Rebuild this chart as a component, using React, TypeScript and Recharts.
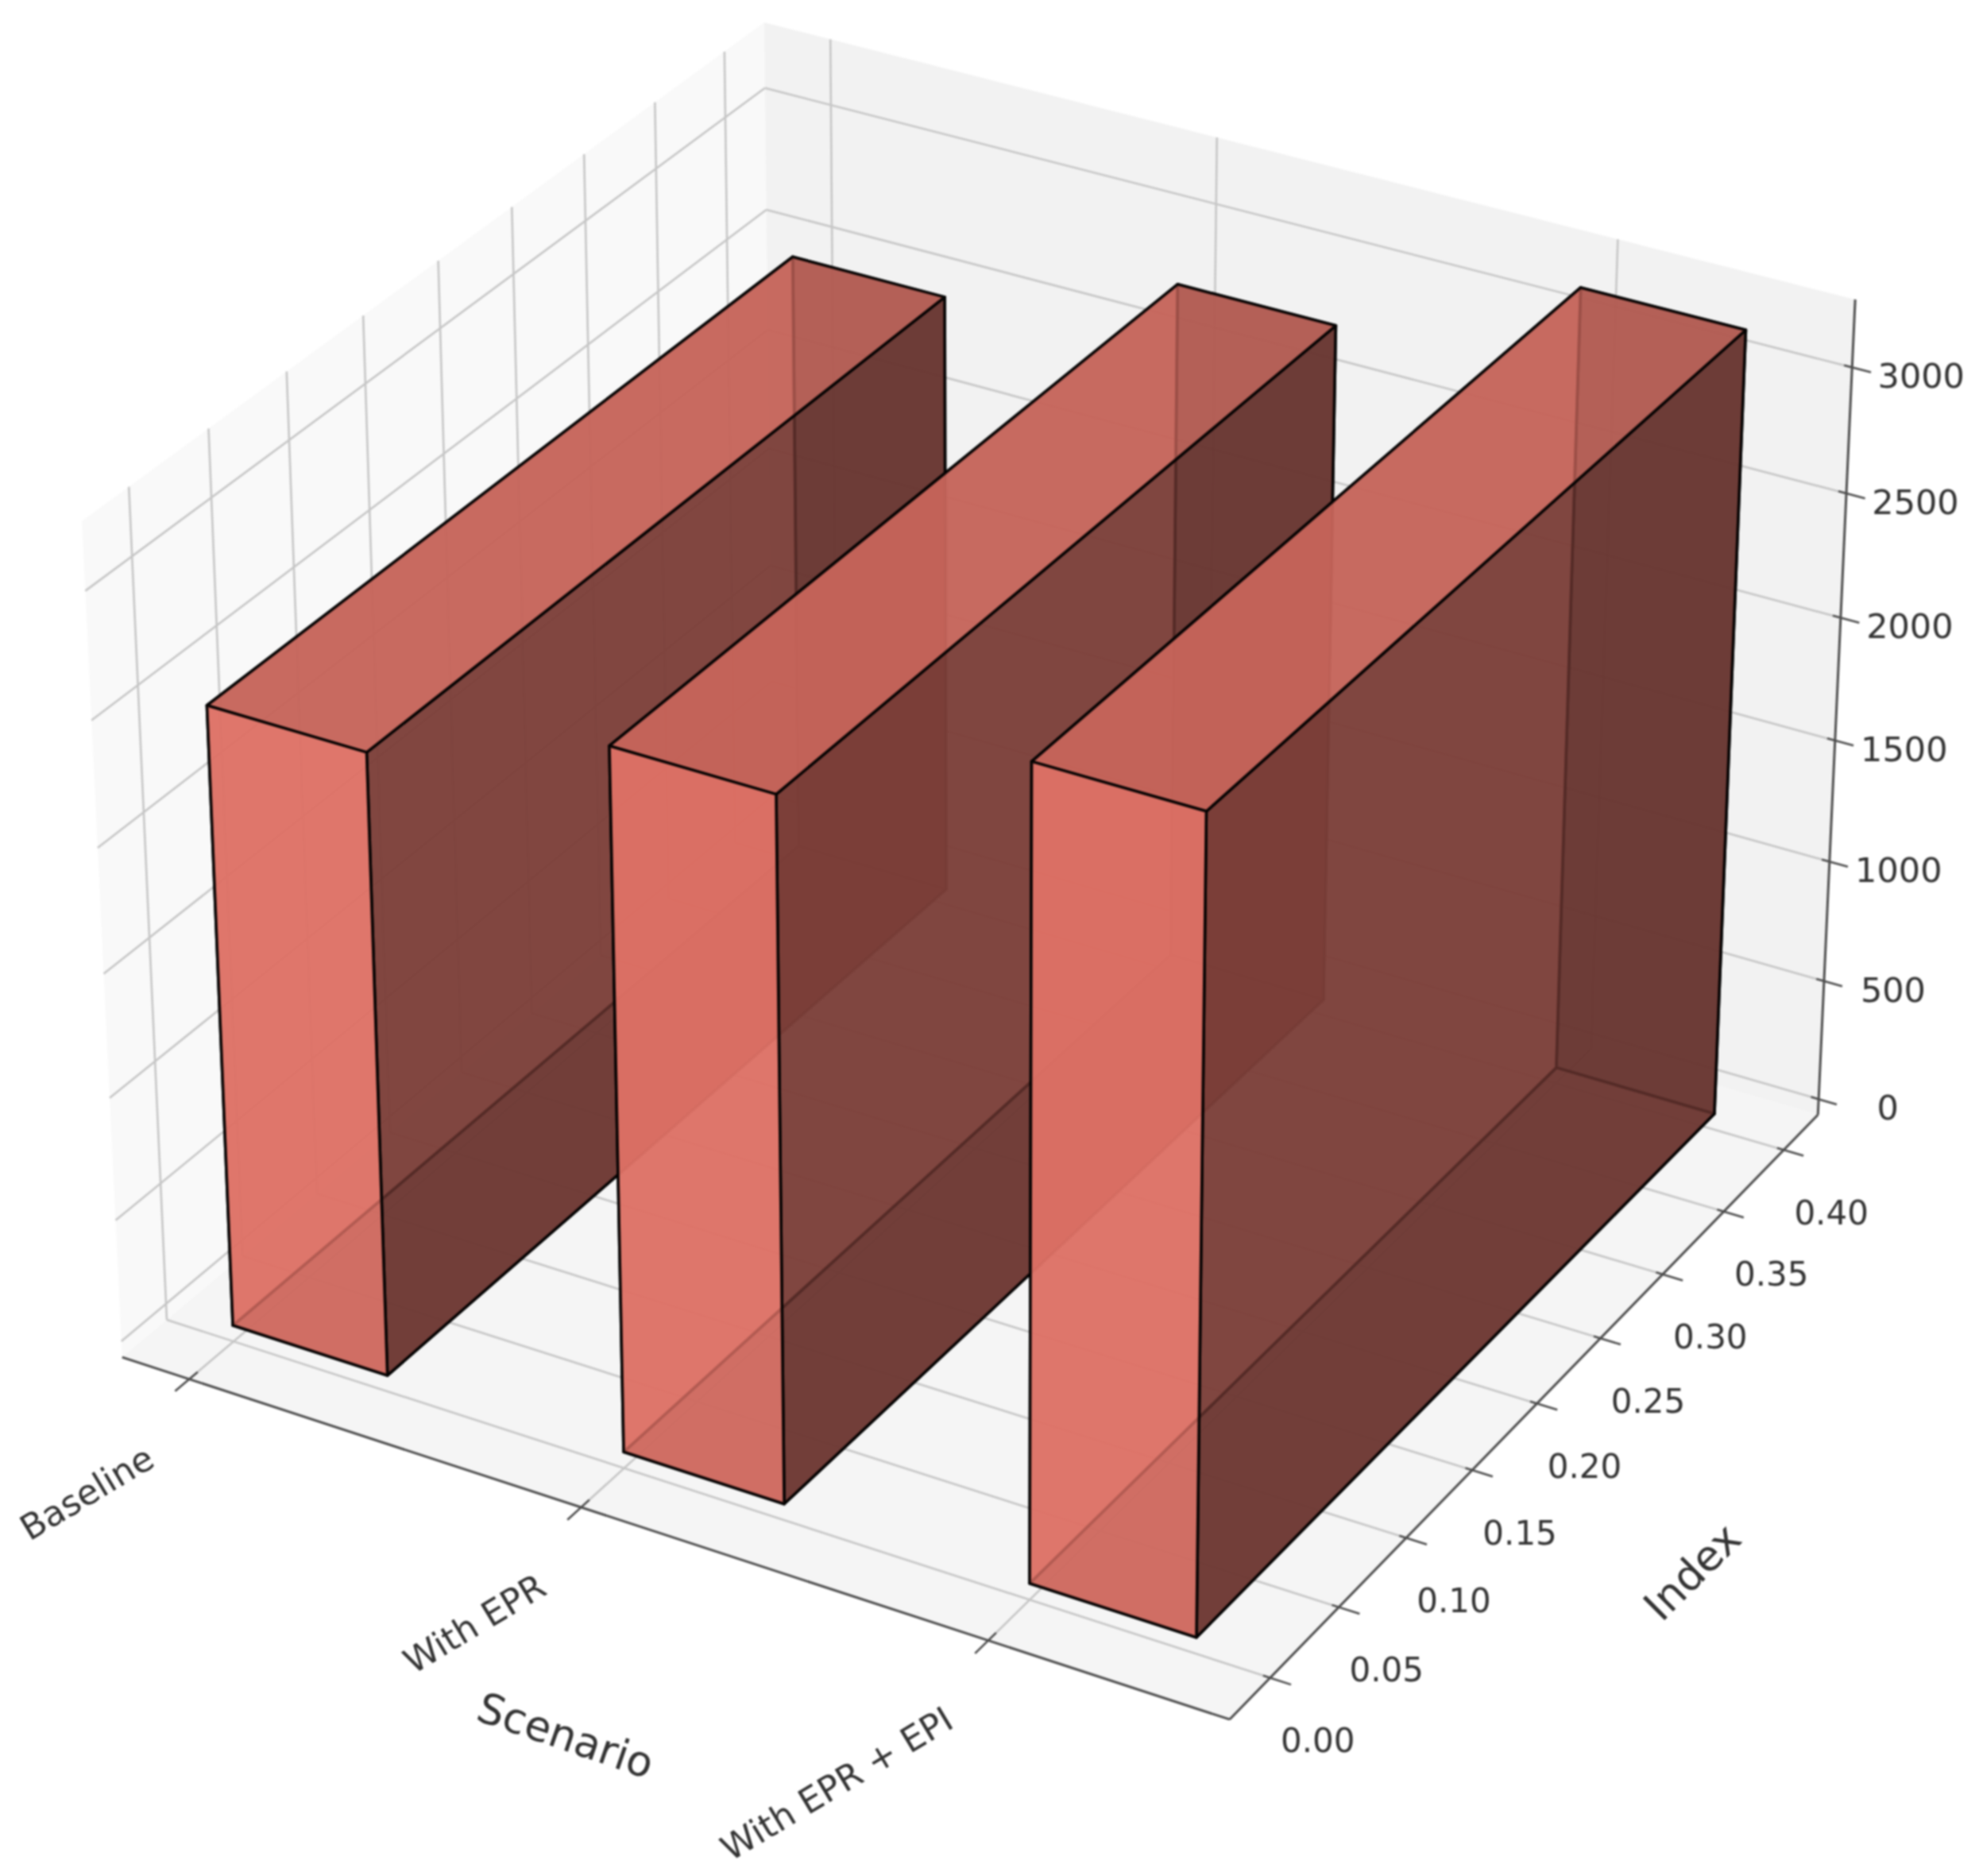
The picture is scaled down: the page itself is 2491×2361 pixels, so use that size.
import { Bar, BarChart, XAxis, YAxis } from "recharts"

const WIDTH = 2491
const HEIGHT = 2361
// the axes need one pixel each or they are not drawn
const PLOT_W = WIDTH - 1
const PLOT_H = HEIGHT - 1

const scenarios = ["Baseline", "With EPR", "With EPR + EPI"]
const scenarioPositions = [0, 1, 2]
const scenarioValues = [2500, 2800, 3200]
const indexTicks = [0, 0.05, 0.1, 0.15, 0.2, 0.25, 0.3, 0.35, 0.4]
const valueTicks = [0, 500, 1000, 1500, 2000, 2500, 3000]

const barThickness = 0.4
const barDepth = 0.4

// view limits of the 3d box
const xMin = -0.175
const xMax = 2.575
const yMin = -0.029
const yMax = 0.429
const zMin = -66.7
const zMax = 3266.7

const chartData = scenarios.map((name, i) => ({
  name,
  position: scenarioPositions[i],
  value: scenarioValues[i],
}))

// same camera as a default mplot3d axes: elev 30, azim -60
const project = (x: number, y: number, z: number) => {
  const qx = ((x - xMin) / (xMax - xMin) - 0.5) * 1.1905
  const qy = ((y - yMin) / (yMax - yMin) - 0.5) * 1.1905
  const qz = ((z - zMin) / (zMax - zMin) - 0.5) * 0.8929
  const xv = 0.866 * qx + 0.5 * qy
  const yv = -0.25 * qx + 0.433 * qy + 0.866 * qz
  const zv = 0.433 * qx - 0.75 * qy + 0.5 * qz
  const d = 10 - zv
  return { px: 1240.7 + (13414 * xv) / d, py: 1044.8 - (13431 * yv) / d, depth: zv }
}

const toPoints = (corners: number[][]) =>
  corners
    .map(([x, y, z]) => {
      const p = project(x, y, z)
      return `${p.px},${p.py}`
    })
    .join(" ")

const segment = (a: number[], b: number[], stroke: string, strokeWidth: number) => {
  const p = project(a[0], a[1], a[2])
  const q = project(b[0], b[1], b[2])
  return <line x1={p.px} y1={p.py} x2={q.px} y2={q.py} stroke={stroke} strokeWidth={strokeWidth} />
}

const GRID = "#c6c6c6"
const AXIS = "#4d4d4d"
const TEXT = "#333333"
const FONT = "DejaVu Sans"
const tickFont = 42
const scenarioFont = 44
const valueFont = 43
const titleFont = 53

const xSpan = xMax - xMin
const ySpan = yMax - yMin

function Walls() {
  return (
    <g>
      <polygon points={toPoints([[xMin, yMin, zMin], [xMin, yMax, zMin], [xMin, yMax, zMax], [xMin, yMin, zMax]])} fill="#f9f9f9" />
      <polygon points={toPoints([[xMin, yMax, zMin], [xMax, yMax, zMin], [xMax, yMax, zMax], [xMin, yMax, zMax]])} fill="#f2f2f2" />
      <polygon points={toPoints([[xMin, yMin, zMin], [xMax, yMin, zMin], [xMax, yMax, zMin], [xMin, yMax, zMin]])} fill="#f5f5f5" />
      {scenarioPositions.map((v) => (
        <g key={`x${v}`}>
          {segment([v, yMin, zMin], [v, yMax, zMin], GRID, 2.6)}
          {segment([v, yMax, zMin], [v, yMax, zMax], GRID, 2.6)}
        </g>
      ))}
      {indexTicks.map((v) => (
        <g key={`y${v}`}>
          {segment([xMin, v, zMin], [xMax, v, zMin], GRID, 2.6)}
          {segment([xMin, v, zMin], [xMin, v, zMax], GRID, 2.6)}
        </g>
      ))}
      {valueTicks.map((v) => (
        <g key={`z${v}`}>
          {segment([xMin, yMin, v], [xMin, yMax, v], GRID, 2.6)}
          {segment([xMin, yMax, v], [xMax, yMax, v], GRID, 2.6)}
        </g>
      ))}
      {segment([xMin, yMin, zMin], [xMax, yMin, zMin], AXIS, 3)}
      {segment([xMax, yMin, zMin], [xMax, yMax, zMin], AXIS, 3)}
      {segment([xMax, yMax, zMin], [xMax, yMax, zMax], AXIS, 3)}
      {indexTicks.map((v) => {
        const p = project(xMax, v, zMin)
        return (
          <g key={`yt${v}`}>
            {segment([xMax - 0.006 * xSpan, v, zMin], [xMax + 0.018 * xSpan, v, zMin], AXIS, 2.6)}
            <text x={p.px + 60} y={p.py + 79} textAnchor="middle" dominantBaseline="central" fontSize={tickFont} fontFamily={FONT} fill={TEXT}>
              {v.toFixed(2)}
            </text>
          </g>
        )
      })}
      <text transform="translate(712,2184) rotate(19)" textAnchor="middle" dominantBaseline="central" fontSize={titleFont} fontFamily={FONT} fill={TEXT}>
        Scenario
      </text>
      <text transform="translate(2130,1978) rotate(-45)" textAnchor="middle" dominantBaseline="central" fontSize={titleFont} fontFamily={FONT} fill={TEXT}>
        Index
      </text>
    </g>
  )
}

function ScenarioTick({ payload }: any) {
  const v = payload.value
  const p = project(v, yMin, zMin)
  return (
    <g>
      {segment([v, yMin - 0.02 * ySpan, zMin], [v, yMin + 0.012 * ySpan, zMin], AXIS, 2.6)}
      <text
        transform={`translate(${p.px - 49},${p.py + 95}) rotate(-31)`}
        textAnchor="end"
        dominantBaseline="central"
        fontSize={scenarioFont}
        fontFamily={FONT}
        fill={TEXT}
      >
        {scenarios[scenarioPositions.indexOf(v)]}
      </text>
    </g>
  )
}

function ValueTick({ payload }: any) {
  const v = payload.value
  const p = project(xMax, yMax, v)
  return (
    <g>
      {segment([xMax - 0.007 * xSpan, yMax, v], [xMax + 0.0165 * xSpan, yMax, v], AXIS, 2.6)}
      <text x={p.px + 87} y={p.py + 11} textAnchor="middle" dominantBaseline="central" fontSize={valueFont} fontFamily={FONT} fill={TEXT}>
        {v}
      </text>
    </g>
  )
}

// matplotlib's default face shading for salmon
const shade = (normal: number[]) => {
  const dot = normal[0] * -0.667 + normal[1] * -0.667 + normal[2] * 0.333
  const f = 0.3 + (0.7 * (dot + 1)) / 2
  return `rgb(${250 * f},${128 * f},${114 * f})`
}

function BoxShape({ x, y, width, height }: any) {
  // read the box back out of the pixel rectangle the bar scales produced
  const x0 = xMin + ((x - 1 + width / 2) / PLOT_W) * xSpan
  const x1 = x0 + barThickness
  const z1 = zMax - (y / PLOT_H) * (zMax - zMin)
  const z0 = zMax - ((y + height) / PLOT_H) * (zMax - zMin)
  const y0 = 0
  const y1 = barDepth
  const faces = [
    { n: [0, 0, -1], c: [[x0, y0, z0], [x1, y0, z0], [x1, y1, z0], [x0, y1, z0]] },
    { n: [0, 0, 1], c: [[x0, y0, z1], [x1, y0, z1], [x1, y1, z1], [x0, y1, z1]] },
    { n: [0, -1, 0], c: [[x0, y0, z0], [x1, y0, z0], [x1, y0, z1], [x0, y0, z1]] },
    { n: [0, 1, 0], c: [[x0, y1, z0], [x1, y1, z0], [x1, y1, z1], [x0, y1, z1]] },
    { n: [-1, 0, 0], c: [[x0, y0, z0], [x0, y1, z0], [x0, y1, z1], [x0, y0, z1]] },
    { n: [1, 0, 0], c: [[x1, y0, z0], [x1, y1, z0], [x1, y1, z1], [x1, y0, z1]] },
  ]
  const depthOf = (c: number[][]) => c.reduce((s, k) => s + project(k[0], k[1], k[2]).depth, 0) / 4
  const sorted = [...faces].sort((a, b) => depthOf(a.c) - depthOf(b.c))
  return (
    <g>
      {sorted.map((f, i) => (
        <polygon
          key={i}
          points={toPoints(f.c)}
          fill={shade(f.n)}
          fillOpacity={0.8}
          stroke="#000000"
          strokeOpacity={0.9}
          strokeWidth={3.6}
          strokeLinejoin="round"
        />
      ))}
    </g>
  )
}

export default function App() {
  return (
    <div style={{ position: "absolute", left: 0, top: 0, width: WIDTH, height: HEIGHT, background: "#ffffff", filter: "blur(0.8px)" }}>
      <BarChart width={WIDTH} height={HEIGHT} data={chartData} margin={{ top: 0, right: 0, bottom: 0, left: 0 }}>
        <Walls />
        <XAxis
          type="number"
          dataKey="position"
          domain={[xMin, xMax]}
          ticks={scenarioPositions}
          interval={0}
          height={1}
          axisLine={false}
          tickLine={false}
          tick={(p: any) => <ScenarioTick {...p} />}
        />
        <YAxis
          type="number"
          domain={[zMin, zMax]}
          ticks={valueTicks}
          interval={0}
          width={1}
          axisLine={false}
          tickLine={false}
          tick={(p: any) => <ValueTick {...p} />}
        />
        <Bar dataKey="value" barSize={1} isAnimationActive={false} shape={(p: any) => <BoxShape {...p} />} />
      </BarChart>
    </div>
  )
}
